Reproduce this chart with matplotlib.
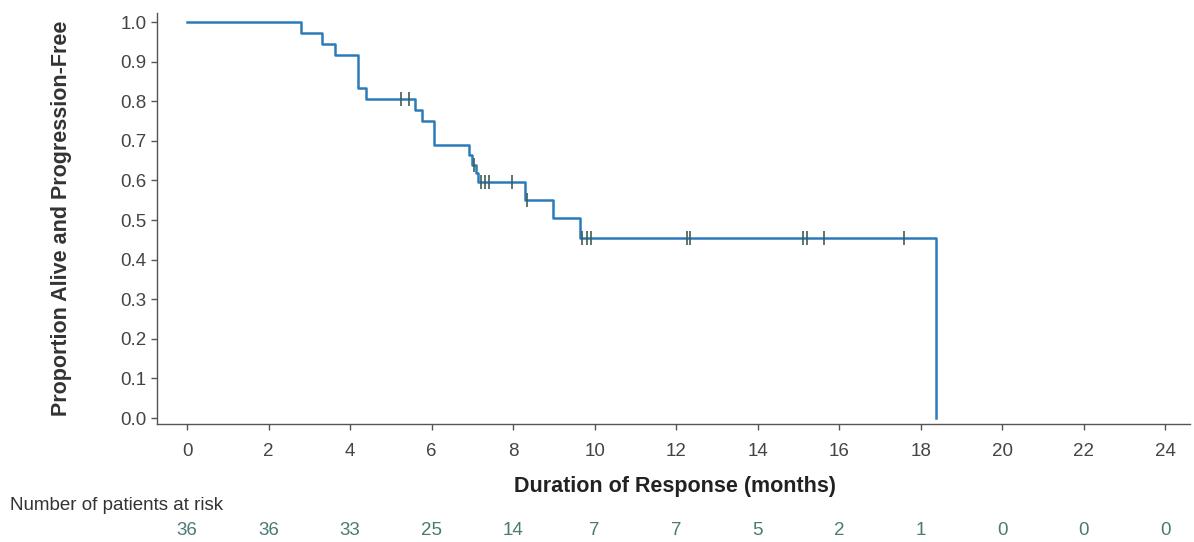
import numpy as np
import matplotlib
matplotlib.use("Agg")
import matplotlib.pyplot as plt
from matplotlib.transforms import blended_transform_factory

# Kaplan-Meier step curve (event times in months, proportion after each step)
step_times = [0, 2.8, 3.3, 3.64, 4.19, 4.38, 5.6, 5.76, 6.06, 6.92, 7.0, 7.08, 7.15, 8.28, 8.97, 9.63, 18.37]
step_surv = [1.0, 0.972, 0.944, 0.917, 0.833, 0.806, 0.778, 0.750, 0.690, 0.665, 0.640, 0.618, 0.595, 0.552, 0.505, 0.455, 0.0]

# censored observations (months)
censor_times = [5.25, 5.45, 7.05, 7.2, 7.3, 7.42, 7.98, 8.35, 9.7, 9.82, 9.92,
                12.27, 12.34, 15.12, 15.22, 15.62, 17.59]

# patients at risk table
risk_times = [0, 2, 4, 6, 8, 10, 12, 14, 16, 18, 20, 22, 24]
risk_counts = [36, 36, 33, 25, 14, 7, 7, 5, 2, 1, 0, 0, 0]

plt.rcParams['font.family'] = ['Liberation Sans', 'DejaVu Sans']

fig = plt.figure(figsize=(11.94, 5.42), dpi=100)
ax = fig.add_axes([0.1315, 0.2177, 0.865, 0.7583])

line_col = '#2b7bba'
ax.step(step_times, step_surv, where='post', color=line_col, linewidth=1.8, zorder=3)

# censor ticks sit on the curve level at that time
idx = np.searchsorted(step_times, censor_times, side='right') - 1
censor_y = np.array(step_surv)[idx]
ax.plot(censor_times, censor_y, linestyle='none', marker='|', markersize=10,
        markeredgewidth=1.2, color='#3f5e58', zorder=4)

ax.set_xlim(-0.736, 24.6)
ax.set_ylim(-0.015, 1.023)
ax.set_xticks(range(0, 25, 2))
ax.set_yticks(np.arange(0, 1.01, 0.1))
ax.set_yticklabels([f'{v:.1f}' for v in np.arange(0, 1.01, 0.1)])

for s in ['top', 'right']:
    ax.spines[s].set_visible(False)
for s in ['left', 'bottom']:
    ax.spines[s].set_color('#555555')
    ax.spines[s].set_linewidth(1.0)

ax.tick_params(axis='both', colors='#555555', labelcolor='#444444', labelsize=13.5,
               length=4, width=1)
ax.tick_params(axis='x', pad=10)

ax.set_xlabel('Duration of Response (months)', fontsize=15.5, fontweight='bold',
              color='#222222', va='center')
ax.xaxis.set_label_coords(0.502, -0.153)
ax.set_ylabel('Proportion Alive and Progression-Free', fontsize=15.5,
              fontweight='bold', color='#333333')
ax.yaxis.set_label_coords(-0.082, 0.5)

fig.text(0.008, 0.068, 'Number of patients at risk', fontsize=13.5, color='#333333',
         va='center', ha='left')
trans = blended_transform_factory(ax.transData, fig.transFigure)
for t, n in zip(risk_times, risk_counts):
    ax.text(t, 0.022, str(n), transform=trans, ha='center', va='center',
            fontsize=13.5, color='#4a7a72', clip_on=False)

fig.savefig('out.png', dpi=100, facecolor='white')
